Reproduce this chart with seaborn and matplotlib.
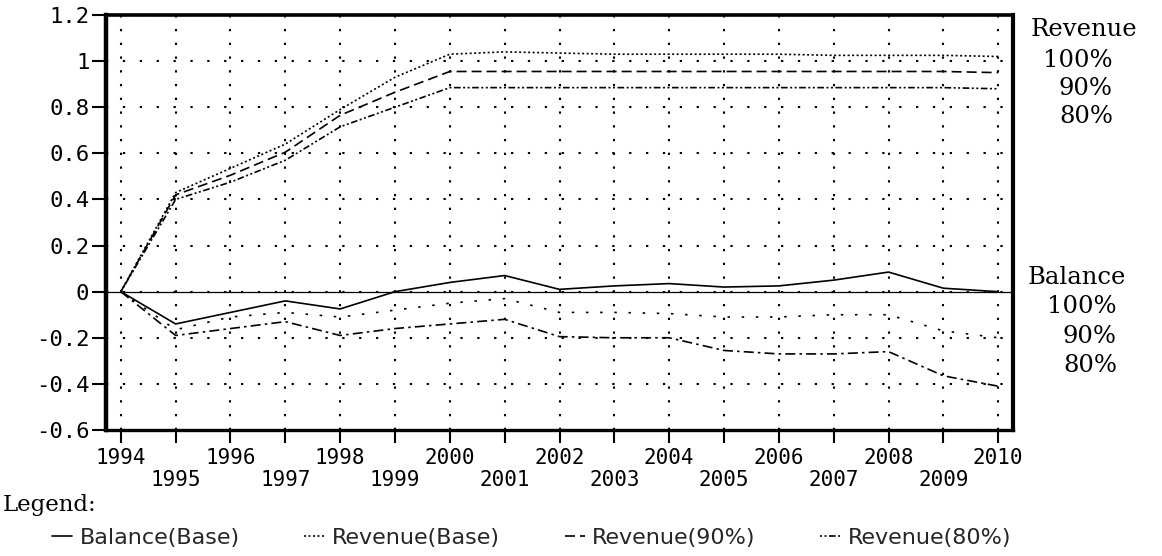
import numpy as np
import matplotlib.pyplot as plt
from matplotlib.ticker import FixedLocator
import seaborn as sns

# values
years = list(range(1994, 2011))
balance_base = [0, -0.14, -0.09, -0.04, -0.075, 0.0, 0.04, 0.07, 0.01, 0.025,
                0.035, 0.02, 0.025, 0.05, 0.085, 0.015, 0.0]
balance_90 = [0, -0.165, -0.11, -0.09, -0.11, -0.08, -0.05, -0.03, -0.09, -0.09,
              -0.095, -0.11, -0.11, -0.10, -0.10, -0.17, -0.20]
balance_80 = [0, -0.19, -0.16, -0.13, -0.19, -0.16, -0.14, -0.12, -0.195, -0.20,
              -0.20, -0.255, -0.27, -0.27, -0.26, -0.365, -0.41]
revenue_base = [0, 0.43, 0.535, 0.64, 0.79, 0.93, 1.03, 1.04, 1.035, 1.03,
                1.03, 1.03, 1.03, 1.025, 1.025, 1.025, 1.02]
revenue_90 = [0, 0.42, 0.505, 0.605, 0.765, 0.865, 0.955, 0.955, 0.955, 0.955,
              0.955, 0.955, 0.955, 0.955, 0.955, 0.955, 0.95]
revenue_80 = [0, 0.40, 0.475, 0.57, 0.715, 0.80, 0.885, 0.885, 0.885, 0.885,
              0.885, 0.885, 0.885, 0.885, 0.885, 0.885, 0.88]

y_ticks = [-0.6, -0.4, -0.2, 0, 0.2, 0.4, 0.6, 0.8, 1, 1.2]
y_labels = ['-0.6', '-0.4', '-0.2', '0', '0.2', '0.4', '0.6', '0.8', '1', '1.2']
legend_labels = ['Balance(Base)', 'Revenue(Base)', 'Revenue(90%)', 'Revenue(80%)']
side_levels = ['100%', '90%', '80%']

sns.set_theme(style='ticks')
plt.rcParams['axes.unicode_minus'] = False
plt.rcParams['font.family'] = ['DejaVu Sans']

W, H = 1162, 556
fig = plt.figure(figsize=(W / 100, H / 100), dpi=100)
ax = fig.add_axes([106 / W, 1 - 430 / H, (1013 - 106) / W, (430 - 15) / H])

series = [
    (balance_base, '-', legend_labels[0]),
    (balance_90, (0, (1.5, 7)), '_b90'),
    (balance_80, (0, (6, 2.5, 1.5, 2.5)), '_b80'),
    (revenue_base, (0, (1.2, 1.5)), legend_labels[1]),
    (revenue_90, (0, (6, 3)), legend_labels[2]),
    (revenue_80, (0, (1.2, 1.5, 1.2, 1.5, 4, 1.5)), legend_labels[3]),
]
for vals, ls, lbl in series:
    sns.lineplot(x=years, y=vals, ax=ax, color='black', linewidth=1.2,
                 linestyle=ls, label=lbl, legend=False)

ax.axhline(0, color='black', linewidth=0.9)

ax.set_xlim(1993.73, 2010.27)
ax.set_ylim(-0.6, 1.2)
ax.set_xlabel('')
ax.set_ylabel('')

even = [y for y in years if y % 2 == 0]
odd = [y for y in years if y % 2 == 1]
ax.xaxis.set_major_locator(FixedLocator(even))
ax.xaxis.set_minor_locator(FixedLocator(odd))
ax.set_xticklabels([str(y) for y in even])
ax.set_xticklabels([str(y) for y in odd], minor=True)
ax.set_yticks(y_ticks)
ax.set_yticklabels(y_labels)

tick_font = 'DejaVu Sans Mono'
for lab in ax.get_xticklabels(which='both') + ax.get_yticklabels():
    lab.set_family(tick_font)
ax.tick_params(axis='x', which='major', length=9, width=1.5, pad=4,
               labelsize=15, color='black', labelcolor='black', direction='out')
ax.tick_params(axis='x', which='minor', length=9, width=1.5, pad=20,
               labelsize=15, color='black', labelcolor='black', direction='out')
ax.tick_params(axis='y', length=10, width=1.5, pad=2, labelsize=16,
               color='black', labelcolor='black', direction='out')

ax.set_axisbelow(True)
ax.xaxis.grid(True, which='both', color='black', linewidth=1.5,
              linestyle=(0, (1.1, 5.5)))
ax.yaxis.grid(True, which='major', color='black', linewidth=1.5,
              linestyle=(0, (1.1, 7)))

for side, lw in [('left', 3.2), ('right', 3.0), ('top', 2.6), ('bottom', 2.4)]:
    ax.spines[side].set_visible(True)
    ax.spines[side].set_linewidth(lw)
    ax.spines[side].set_color('black')

# right-hand labels
side_font = dict(family='DejaVu Serif', fontsize=17.5, color='black')
fig.text(1031 / W, 1 - 36 / H, 'Revenue', ha='left', va='baseline', **side_font)
for lvl, yb in zip(side_levels, [67, 95, 123]):
    fig.text(1113 / W, 1 - yb / H, lvl, ha='right', va='baseline', **side_font)
fig.text(1028 / W, 1 - 284 / H, 'Balance', ha='left', va='baseline', **side_font)
for lvl, yb in zip(side_levels, [313, 343, 372]):
    fig.text(1117 / W, 1 - yb / H, lvl, ha='right', va='baseline', **side_font)

# legend
fig.text(3 / W, 1 - 511 / H, 'Legend:', ha='left', va='baseline',
         family='DejaVu Serif', fontsize=16.5, color='black')
handles, labels = ax.get_legend_handles_labels()
fig.legend(handles, labels, loc='center left', bbox_to_anchor=(52 / W, 1 - 538 / H),
           ncol=4, frameon=False, borderpad=0, borderaxespad=0,
           handlelength=0.9, handletextpad=0.35, columnspacing=2.9,
           prop={'family': 'DejaVu Sans', 'size': 16})

fig.savefig('out.png', dpi=100)
